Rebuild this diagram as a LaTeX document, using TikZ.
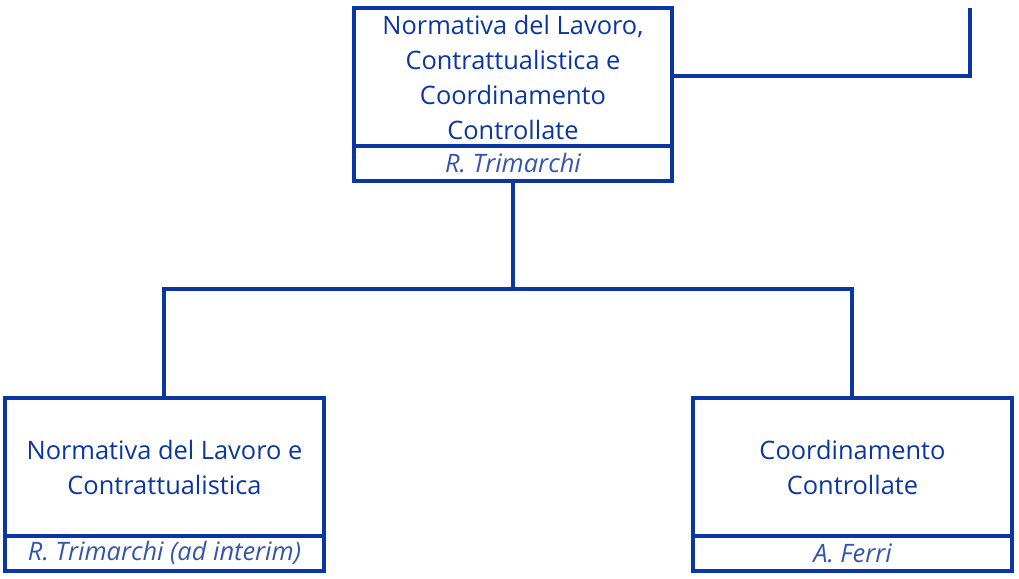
\documentclass[tikz,border=0pt]{standalone}
\usepackage{fontspec}
\setmainfont{Open Sans}
\definecolor{navy}{HTML}{0A36A4}
\definecolor{navyname}{HTML}{3355B0}
\begin{document}
\begin{tikzpicture}[x=1pt,y=-1pt,
  line/.style={draw=navy,line width=3.4pt},
  boxtitle/.style={text=navy,font=\fontsize{25.4}{35}\selectfont,align=center},
  boxname/.style={text=navyname,font=\fontsize{25.4}{28}\selectfont\itshape,align=center}]
\useasboundingbox (0,0) rectangle (1019,578);
% top box
\draw[line] (354,8) rectangle (672,181);
\draw[line] (354,146) -- (672,146);
\node[boxtitle] (top) at (513,77) {Normativa del Lavoro,\\Contrattualistica e\\Coordinamento\\Controllate};
\node[boxname] (topn) at (513,163) {R. Trimarchi};
\coordinate (topR) at (672,76);
\coordinate (topB) at (513,181);
\coordinate (up) at (970,8);
% left box
\draw[line] (5,398) rectangle (324,571);
\draw[line] (5,536) -- (324,536);
\node[boxtitle] (left) at (164.5,467) {Normativa del Lavoro e\\Contrattualistica};
\node[boxname] (leftn) at (164.5,553) {R. Trimarchi (ad interim)};
\coordinate (leftT) at (164,398);
% right box
\draw[line] (693,398) rectangle (1012,571);
\draw[line] (693,536) -- (1012,536);
\node[boxtitle] (right) at (852.5,467) {Coordinamento\\Controllate};
\node[boxname] (rightn) at (852.5,553) {A. Ferri};
\coordinate (rightT) at (852,398);
% connectors
\draw[line] (topR) -| (up);
\draw[line] (topB) -- (513,289) -| (leftT);
\draw[line] (513,289) -| (rightT);
\end{tikzpicture}
\end{document}
